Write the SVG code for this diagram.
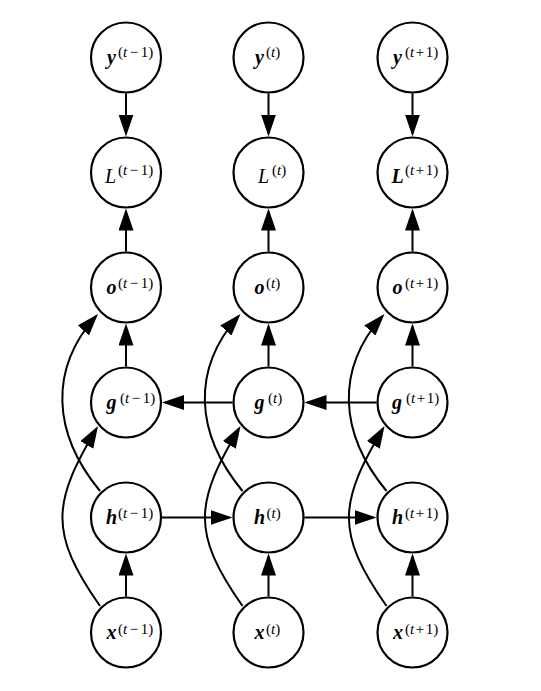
<svg xmlns="http://www.w3.org/2000/svg" width="541" height="691" viewBox="0 0 541 691">
<style>
.n{fill:#fff;stroke:#000;stroke-width:2.2}
.c{fill:none;stroke:#000;stroke-width:2;marker-end:url(#ah)}
.m{font-family:"Liberation Serif","Times New Roman",serif;font-size:20px;font-style:italic;font-weight:bold;fill:#000}
.nb{font-weight:normal}
.s{font-size:15px;font-style:normal;font-weight:normal}
.i{font-style:italic}
</style>
<defs>
<marker id="ah" markerUnits="userSpaceOnUse" markerWidth="22" markerHeight="16" refX="19" refY="7.5" orient="auto">
<path d="M0,0 L22,7.5 L0,15 z" fill="#000"/>
</marker>
</defs>
<rect width="541" height="691" fill="#fff"/>
<g id="connectors">
<path class="c" d="M126,93.5 V133.5"/>
<path class="c" d="M268.5,93.5 V133.5"/>
<path class="c" d="M412.5,93.5 V133.5"/>
<path class="c" d="M126,251.5 V211.5"/>
<path class="c" d="M268.5,251.5 V211.5"/>
<path class="c" d="M412.5,251.5 V211.5"/>
<path class="c" d="M126,366.5 V326.5"/>
<path class="c" d="M268.5,366.5 V326.5"/>
<path class="c" d="M412.5,366.5 V326.5"/>
<path class="c" d="M126,596.5 V556.5"/>
<path class="c" d="M268.5,596.5 V556.5"/>
<path class="c" d="M412.5,596.5 V556.5"/>
<path class="c" d="M162,517.5 H229.5"/>
<path class="c" d="M304.5,517.5 H373.5"/>
<path class="c" d="M232.5,402.5 H165"/>
<path class="c" d="M376.5,402.5 H307.5"/>
<path class="c" d="M100,606 C48,532 53,502 96.5,428.6"/>
<path class="c" d="M242.5,606 C190.5,532 195.5,502 239,428.6"/>
<path class="c" d="M386.5,606 C334.5,532 339.5,502 383,428.6"/>
<path class="c" d="M100,491 C52,433 49,369 96,316.2"/>
<path class="c" d="M242.5,491 C194.5,433 191.5,369 238.5,316.2"/>
<path class="c" d="M386.5,491 C338.5,433 335.5,369 382.5,316.2"/>
</g>
<g id="y1"><circle class="n" cx="126" cy="57.5" r="35"/><text class="m" x="107" y="64">y<tspan class="s" x="118" y="57">(<tspan class="i">t</tspan><tspan dx="2.5">−</tspan><tspan dx="2.5">1)</tspan></tspan></text></g>
<g id="y2"><circle class="n" cx="268.5" cy="57.5" r="35"/><text class="m" x="255" y="64">y<tspan class="s" x="266" y="57">(<tspan class="i">t</tspan>)</tspan></text></g>
<g id="y3"><circle class="n" cx="412.5" cy="57.5" r="35"/><text class="m" x="393" y="64">y<tspan class="s" x="405" y="57">(<tspan class="i">t</tspan><tspan dx="1.5">+</tspan><tspan dx="1.5">1)</tspan></tspan></text></g>
<g id="L1"><circle class="n" cx="126" cy="172.5" r="35"/><text class="m nb" x="105" y="182.5">L<tspan class="s" x="118" y="175">(<tspan class="i">t</tspan><tspan dx="2.5">−</tspan><tspan dx="2.5">1)</tspan></tspan></text></g>
<g id="L2"><circle class="n" cx="268.5" cy="172.5" r="35"/><text class="m nb" x="258" y="182.5">L<tspan class="s" x="272" y="175">(<tspan class="i">t</tspan>)</tspan></text></g>
<g id="L3"><circle class="n" cx="412.5" cy="172.5" r="35"/><text class="m" x="391.5" y="182.5">L<tspan class="s" x="405" y="175">(<tspan class="i">t</tspan><tspan dx="1.5">+</tspan><tspan dx="1.5">1)</tspan></tspan></text></g>
<g id="o1"><circle class="n" cx="126" cy="287.5" r="35"/><text class="m" x="106.5" y="294">o<tspan class="s" x="118" y="287.5">(<tspan class="i">t</tspan><tspan dx="2.5">−</tspan><tspan dx="2.5">1)</tspan></tspan></text></g>
<g id="o2"><circle class="n" cx="268.5" cy="287.5" r="35"/><text class="m" x="254.5" y="294">o<tspan class="s" x="266" y="287.5">(<tspan class="i">t</tspan>)</tspan></text></g>
<g id="o3"><circle class="n" cx="412.5" cy="287.5" r="35"/><text class="m" x="392.5" y="294">o<tspan class="s" x="405" y="287.5">(<tspan class="i">t</tspan><tspan dx="1.5">+</tspan><tspan dx="1.5">1)</tspan></tspan></text></g>
<g id="g1"><circle class="n" cx="126" cy="402.5" r="35"/><text class="m" x="106.5" y="409">g<tspan class="s" x="120" y="402.5">(<tspan class="i">t</tspan><tspan dx="2.5">−</tspan><tspan dx="2.5">1)</tspan></tspan></text></g>
<g id="g2"><circle class="n" cx="268.5" cy="402.5" r="35"/><text class="m" x="254.5" y="409">g<tspan class="s" x="268" y="402.5">(<tspan class="i">t</tspan>)</tspan></text></g>
<g id="g3"><circle class="n" cx="412.5" cy="402.5" r="35"/><text class="m" x="392" y="409">g<tspan class="s" x="406" y="402.5">(<tspan class="i">t</tspan><tspan dx="1.5">+</tspan><tspan dx="1.5">1)</tspan></tspan></text></g>
<g id="h1"><circle class="n" cx="126" cy="517.5" r="35"/><text class="m" x="106" y="524">h<tspan class="s" x="118" y="518">(<tspan class="i">t</tspan><tspan dx="2.5">−</tspan><tspan dx="2.5">1)</tspan></tspan></text></g>
<g id="h2"><circle class="n" cx="268.5" cy="517.5" r="35"/><text class="m" x="254" y="524">h<tspan class="s" x="266.5" y="518">(<tspan class="i">t</tspan>)</tspan></text></g>
<g id="h3"><circle class="n" cx="412.5" cy="517.5" r="35"/><text class="m" x="392" y="524">h<tspan class="s" x="405" y="518">(<tspan class="i">t</tspan><tspan dx="1.5">+</tspan><tspan dx="1.5">1)</tspan></tspan></text></g>
<g id="x1"><circle class="n" cx="126" cy="632.5" r="35"/><text class="m" x="106.5" y="638.5">x<tspan class="s" x="118" y="633.5">(<tspan class="i">t</tspan><tspan dx="2.5">−</tspan><tspan dx="2.5">1)</tspan></tspan></text></g>
<g id="x2"><circle class="n" cx="268.5" cy="632.5" r="35"/><text class="m" x="254.5" y="638.5">x<tspan class="s" x="266" y="633.5">(<tspan class="i">t</tspan>)</tspan></text></g>
<g id="x3"><circle class="n" cx="412.5" cy="632.5" r="35"/><text class="m" x="393" y="638.5">x<tspan class="s" x="405" y="633.5">(<tspan class="i">t</tspan><tspan dx="1.5">+</tspan><tspan dx="1.5">1)</tspan></tspan></text></g>
</svg>
